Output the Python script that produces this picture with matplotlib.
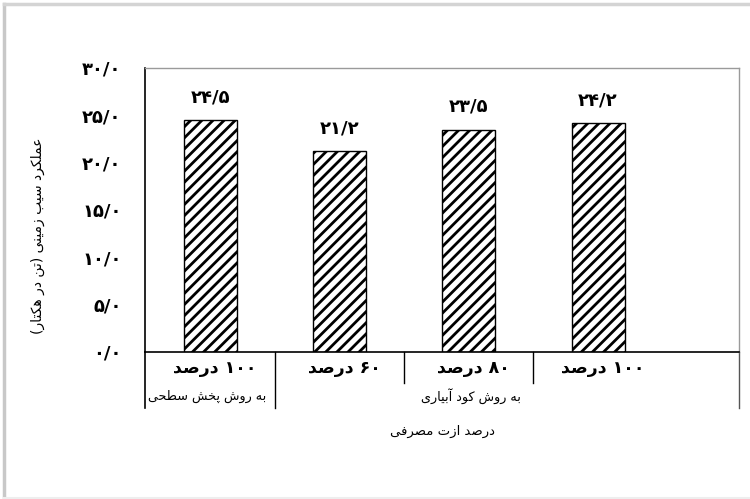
import re
import matplotlib
matplotlib.use("Agg")
import matplotlib.pyplot as plt
from matplotlib.lines import Line2D
import matplotlib.transforms as mtransforms

# ---------------- data ----------------
categories = ["۱۰۰ درصد", "۶۰ درصد", "۸۰ درصد", "۱۰۰ درصد"]
values = [24.5, 21.2, 23.5, 24.2]
groups = ["به روش پخش سطحی", "به روش کود آبیاری"]
group_members = [[0], [1, 2, 3]]
yticks = [0, 5, 10, 15, 20, 25, 30]
xlabel = "درصد ازت مصرفی"
ylabel = "عملکرد سیب زمینی (تن در هکتار)"

# ---------------- minimal Persian shaping ----------------
# (isolated, final, initial, medial)
FORMS = {
    'ا': ('\uFE8D', '\uFE8E', None, None),
    'آ': ('\uFE81', '\uFE82', None, None),
    'ب': ('\uFE8F', '\uFE90', '\uFE91', '\uFE92'),
    'پ': ('\uFB56', '\uFB57', '\uFB58', '\uFB59'),
    'ت': ('\uFE95', '\uFE96', '\uFE97', '\uFE98'),
    'ح': ('\uFEA1', '\uFEA2', '\uFEA3', '\uFEA4'),
    'خ': ('\uFEA5', '\uFEA6', '\uFEA7', '\uFEA8'),
    'د': ('\uFEA9', '\uFEAA', None, None),
    'ر': ('\uFEAD', '\uFEAE', None, None),
    'ز': ('\uFEAF', '\uFEB0', None, None),
    'س': ('\uFEB1', '\uFEB2', '\uFEB3', '\uFEB4'),
    'ش': ('\uFEB5', '\uFEB6', '\uFEB7', '\uFEB8'),
    'ص': ('\uFEB9', '\uFEBA', '\uFEBB', '\uFEBC'),
    'ط': ('\uFEC1', '\uFEC2', '\uFEC3', '\uFEC4'),
    'ع': ('\uFEC9', '\uFECA', '\uFECB', '\uFECC'),
    'ف': ('\uFED1', '\uFED2', '\uFED3', '\uFED4'),
    'ک': ('\uFB8E', '\uFB8F', '\uFB90', '\uFB91'),
    'ل': ('\uFEDD', '\uFEDE', '\uFEDF', '\uFEE0'),
    'م': ('\uFEE1', '\uFEE2', '\uFEE3', '\uFEE4'),
    'ن': ('\uFEE5', '\uFEE6', '\uFEE7', '\uFEE8'),
    'ه': ('\uFEE9', '\uFEEA', '\uFEEB', '\uFEEC'),
    'و': ('\uFEED', '\uFEEE', None, None),
    'ی': ('\uFBFC', '\uFBFD', '\uFBFE', '\uFBFF'),
}
MIRROR = {'(': ')', ')': '('}


def _shape(s):
    out = []
    n = len(s)
    for i, ch in enumerate(s):
        if ch not in FORMS:
            out.append(ch)
            continue
        iso, fin, ini, med = FORMS[ch]
        prev = s[i - 1] if i > 0 else ''
        nxt = s[i + 1] if i + 1 < n else ''
        pj = prev in FORMS and FORMS[prev][2] is not None
        nj = nxt in FORMS and ini is not None
        if pj and nj:
            out.append(med)
        elif pj:
            out.append(fin)
        elif nj:
            out.append(ini)
        else:
            out.append(iso)
    return ''.join(out)


def fa(s):
    s = _shape(s)
    runs = re.findall(r'[۰-۹0-9/.]+|[^۰-۹0-9/.]+', s)
    if not any(ch in FORMS or '\uFB50' <= ch <= '\uFEFF' for ch in s):
        return s
    vis = []
    for r in reversed(runs):
        if re.fullmatch(r'[۰-۹0-9/.]+', r):
            vis.append(r)
        else:
            vis.append(''.join(MIRROR.get(c, c) for c in reversed(r)))
    return ''.join(vis)


def fa_num(x):
    t = f"{x:.1f}".replace('.', '/')
    return t.translate(str.maketrans('0123456789', '۰۱۲۳۴۵۶۷۸۹'))


plt.rcParams['font.family'] = ['DejaVu Sans']
plt.rcParams['hatch.linewidth'] = 2.0
plt.rcParams['hatch.color'] = 'black'

fig = plt.figure(figsize=(7.5, 4.99), dpi=100)
ax = fig.add_axes([145 / 750, 147 / 499, 594 / 750, 284 / 499])

x = list(range(len(categories)))
ax.bar(x, values, width=0.41, facecolor='white', edgecolor='black',
       linewidth=1.0, hatch='///', zorder=2)
for xi, v in zip(x, values):
    ax.text(xi, v + 1.45, fa_num(v), ha='center', va='bottom',
            fontsize=13, fontweight='bold')

ax.set_xlim(-0.503, 4.09)
ax.set_ylim(0, 30)
ax.set_yticks(yticks)
ax.set_yticklabels([fa_num(t) for t in yticks], fontsize=13, fontweight='bold')
ax.tick_params(axis='y', length=0, pad=17)
ax.set_xticks([])

for side in ['top', 'right']:
    ax.spines[side].set_color('#9a9a9a')
    ax.spines[side].set_linewidth(1.0)
for side in ['left', 'bottom']:
    ax.spines[side].set_color('black')
    ax.spines[side].set_linewidth(1.2)

trans = mtransforms.blended_transform_factory(ax.transData, ax.transAxes)
# extended frame below the axis
deep = -0.197
short = -0.109
ax.plot([-0.503, -0.503], [0, deep], transform=trans, color='black', lw=1.2, clip_on=False)
ax.plot([4.09, 4.09], [0, deep], transform=trans, color='#555555', lw=1.0, clip_on=False)
ax.plot([0.5, 0.5], [0, deep], transform=trans, color='black', lw=1.0, clip_on=False)
for d in [1.5, 2.5]:
    ax.plot([d, d], [0, short], transform=trans, color='black', lw=1.0, clip_on=False)

for xi, c in zip(x, categories):
    ax.text(xi + 0.04, -0.058, fa(c), transform=trans, ha='center', va='center',
            fontsize=12.5, fontweight='bold')
group_offsets = [-0.02, 0.02]
for g, mem, off in zip(groups, group_members, group_offsets):
    cx = sum(mem) / len(mem)
    ax.text(cx + off, -0.155, fa(g), transform=trans, ha='center', va='center', fontsize=9.2)

fig.text(442 / 750, 1 - 431 / 499, fa(xlabel), ha='center', va='center', fontsize=9.5)
fig.text(38 / 750, 1 - 236 / 499, fa(ylabel), ha='center', va='center',
         rotation=90, fontsize=10)

# outer light frame
fig.add_artist(Line2D([4 / 750, 4 / 750], [2 / 499, 1 - 4 / 499], transform=fig.transFigure,
                      color='#c8c8c8', lw=2.5))
fig.add_artist(Line2D([4 / 750, 1], [1 - 4 / 499, 1 - 4 / 499], transform=fig.transFigure,
                      color='#d4d4d4', lw=2.5))
fig.add_artist(Line2D([4 / 750, 1], [1.5 / 499, 1.5 / 499], transform=fig.transFigure,
                      color='#eeeeee', lw=1.5))

fig.savefig('out.png', dpi=100)
